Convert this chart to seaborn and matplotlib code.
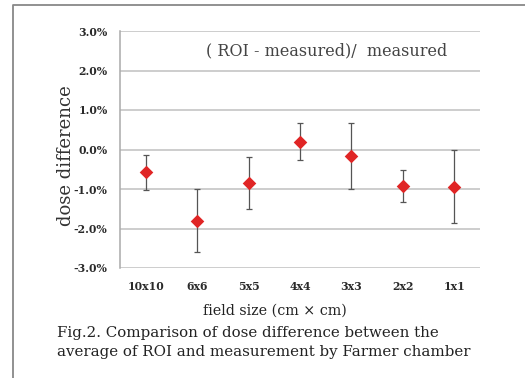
import matplotlib
matplotlib.use("Agg")
import matplotlib.pyplot as plt
from matplotlib.lines import Line2D
import seaborn as sns
import pandas as pd
import numpy as np

categories = ["10x10", "6x6", "5x5", "4x4", "3x3", "2x2", "1x1"]
dose_diff = [-0.58, -1.80, -0.85, 0.20, -0.17, -0.92, -0.94]
err_upper = [-0.15, -0.99, -0.19, 0.66, 0.66, -0.53, -0.02]
err_lower = [-1.02, -2.59, -1.50, -0.27, -0.99, -1.33, -1.85]
ytick_vals = [-3, -2, -1, 0, 1, 2, 3]
ytick_labels = ["-3.0%", "-2.0%", "-1.0%", "0.0%", "1.0%", "2.0%", "3.0%"]

df = pd.DataFrame({"field": categories, "diff": dose_diff,
                   "hi": err_upper, "lo": err_lower})

sns.set_style("white")
plt.rcParams["font.family"] = ["DejaVu Serif"]

W, H = 525, 378
fig = plt.figure(figsize=(W / 100, H / 100), dpi=100)
ax = fig.add_axes([120 / W, 1 - 268 / H, 360 / W, 237 / H])

xpos = np.arange(len(categories))
ax.errorbar(xpos, df["diff"],
            yerr=[df["diff"] - df["lo"], df["hi"] - df["diff"]],
            fmt="none", ecolor="#555555", elinewidth=0.9, capsize=2.2,
            capthick=0.9, zorder=3)
sns.scatterplot(x=xpos, y=df["diff"], marker="D", color="#e02525",
                s=48, edgecolor="#e02525", linewidth=0, ax=ax, zorder=4)

ax.set_xlim(-0.5, len(categories) - 0.5)
ax.set_ylim(-3, 3)
ax.set_yticks(ytick_vals)
ax.set_yticklabels(ytick_labels, fontsize=7.8, fontweight="bold", color="#2a2a2a")
ax.set_xticks(xpos)
ax.set_xticklabels(categories, fontsize=7.8, fontweight="bold", color="#2a2a2a")
ax.tick_params(axis="y", length=4, width=1, color="#aaaaaa", pad=5)
ax.tick_params(axis="x", length=0, pad=9)
for y in ytick_vals:
    ax.axhline(y, color="#c0c0c0", lw=1.1, zorder=1)
for s in ["top", "right", "bottom"]:
    ax.spines[s].set_visible(False)
ax.spines["left"].set_color("#aaaaaa")
ax.spines["left"].set_linewidth(1.1)
ax.set_xlabel("")
ax.set_ylabel("")

ax.text(0.573, 0.915, "( ROI - measured)/  measured", transform=ax.transAxes,
        ha="center", va="center", fontsize=11.5, color="#444444")

fig.text(66 / W, 1 - 156 / H, "dose difference", rotation=90, ha="center",
         va="center", fontsize=13, color="#333333")
fig.text(275 / W, 1 - 311 / H, "field size (cm × cm)", ha="center",
         va="center", fontsize=10.3, color="#222222")
fig.text(57 / W, 1 - 333 / H, "Fig.2. Comparison of dose difference between the",
         ha="left", va="center", fontsize=10.8, color="#222222")
fig.text(57 / W, 1 - 352 / H, "average of ROI and measurement by Farmer chamber",
         ha="left", va="center", fontsize=10.8, color="#222222")

fx, fy = 13 / W, 1 - 5 / H
fig.add_artist(Line2D([fx, fx, 1], [0, fy, fy], transform=fig.transFigure,
                      color="#888888", lw=1.3))

fig.savefig("out.png", dpi=100)
